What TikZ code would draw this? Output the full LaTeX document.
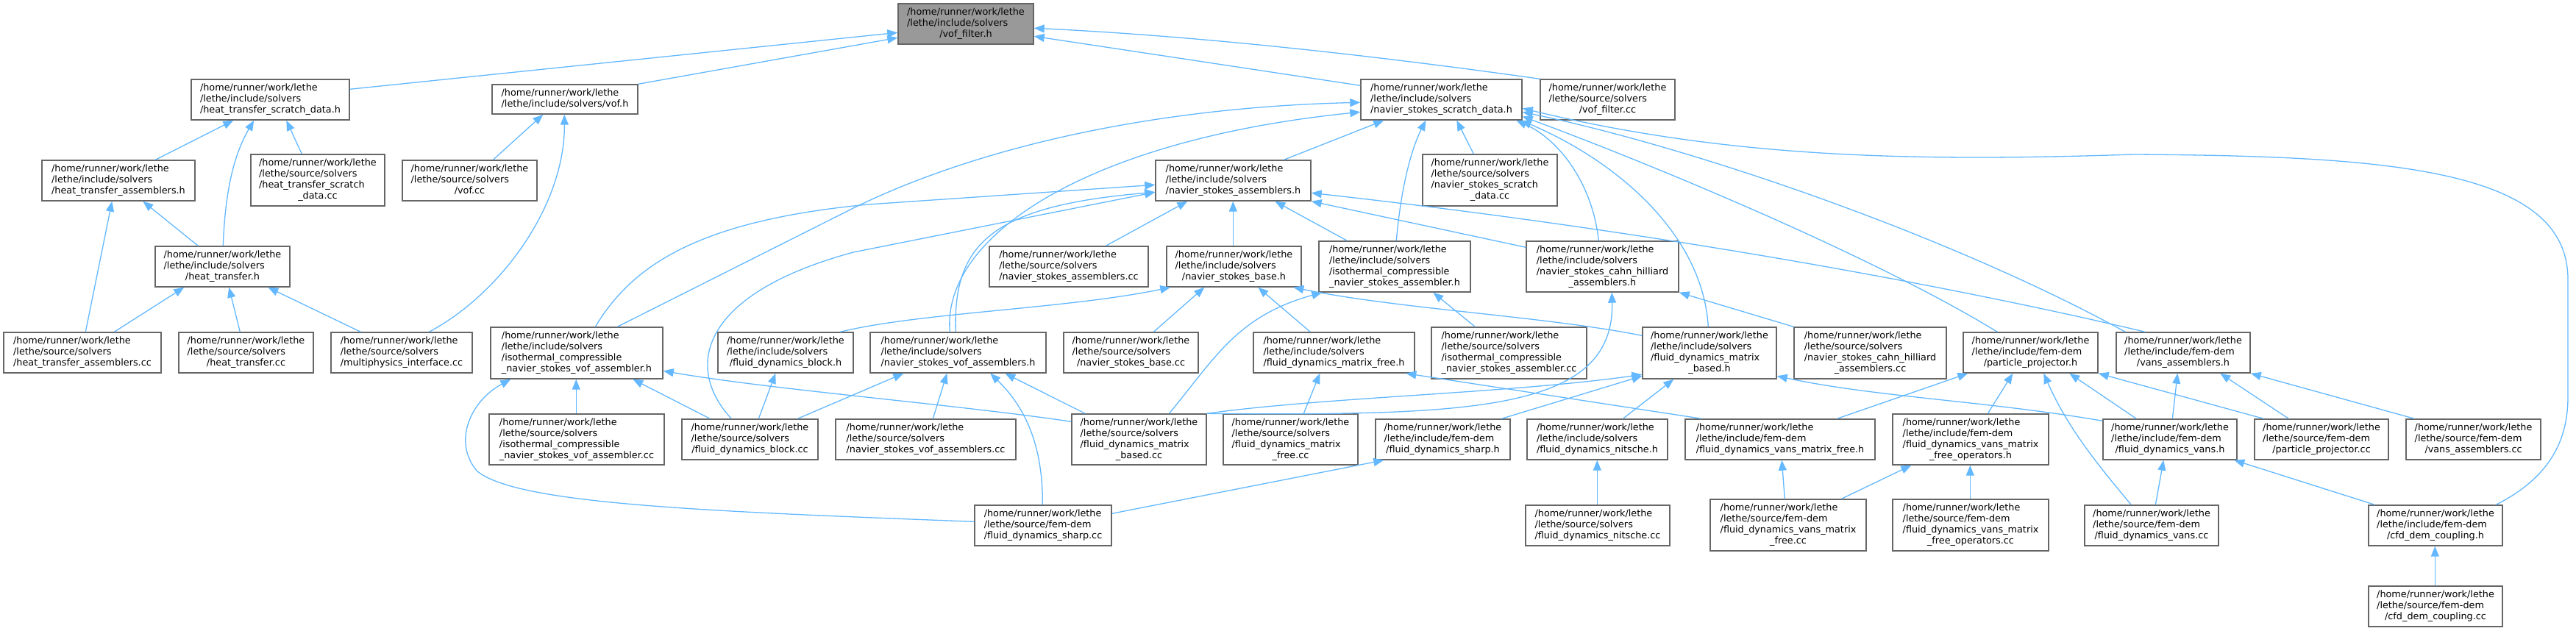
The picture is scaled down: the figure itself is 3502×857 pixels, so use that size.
\documentclass[tikz,border=0pt]{standalone}
\usepackage{fontspec}
\setmainfont{DejaVu Sans}
\usetikzlibrary{calc,arrows.meta}
\definecolor{edgec}{HTML}{63B8FF}
\definecolor{bord}{HTML}{666666}
\definecolor{rootfill}{HTML}{999999}
\newcommand\lastl[1]{\multicolumn{1}{@{}c@{}}{#1}}
\newcommand\pIS{/home/runner/work/lethe\\/lethe/include/solvers}
\newcommand\pSS{/home/runner/work/lethe\\/lethe/source/solvers}
\newcommand\pIF{/home/runner/work/lethe\\/lethe/include/fem-dem}
\newcommand\pSF{/home/runner/work/lethe\\/lethe/source/fem-dem}
\newcommand\nb[7][]{%
  \node[filebox,#1,minimum width={(#5-#3)*0.5pt},minimum height={(#6-#4)*0.5pt}] (#2) at ({(#3+#5)/2},{(#4+#6)/2}) {\begin{tabular}{@{}l@{}}#7\end{tabular}};}
\begin{document}
\begin{tikzpicture}[x=0.5pt,y=-0.5pt,
  filebox/.style={draw=bord,fill=white,line width=0.7pt,inner xsep=3pt,inner ysep=0pt,font=\fontsize{6.4pt}{7.5pt}\selectfont,text=black},
  conn/.style={draw=edgec,line width=0.65pt,-{Triangle[length=7pt,width=5.5pt]}}]
\useasboundingbox (0,0) rectangle (3502,857);
% nodes
\nb[fill=rootfill]{vfh}{1221}{5}{1405}{60}{\pIS\\\lastl{/vof\_filter.h}}
\nb{htsd}{260}{108}{475}{163}{\pIS\\\lastl{/heat\_transfer\_scratch\_data.h}}
\nb{vofh}{669}{115}{867}{155}{/home/runner/work/lethe\\\lastl{/lethe/include/solvers/vof.h}}
\nb{nssd}{1850}{108}{2069}{163}{\pIS\\\lastl{/navier\_stokes\_scratch\_data.h}}
\nb{vfcc}{2094}{108}{2277}{163}{\pSS\\\lastl{/vof\_filter.cc}}
\nb{hta}{57}{218}{265}{273}{\pIS\\\lastl{/heat\_transfer\_assemblers.h}}
\nb{htsdcc}{341}{210}{523}{280}{\pSS\\/heat\_transfer\_scratch\\\lastl{\_data.cc}}
\nb{vofcc}{547}{218}{730}{273}{\pSS\\\lastl{/vof.cc}}
\nb{nsa}{1571}{218}{1782}{273}{\pIS\\\lastl{/navier\_stokes\_assemblers.h}}
\nb{nssdcc}{1934}{210}{2117}{280}{\pSS\\/navier\_stokes\_scratch\\\lastl{\_data.cc}}
\nb{ht}{211}{335}{394}{390}{\pIS\\\lastl{/heat\_transfer.h}}
\nb{nsacc}{1345}{335}{1561}{390}{\pSS\\\lastl{/navier\_stokes\_assemblers.cc}}
\nb{nsb}{1586}{335}{1769}{390}{\pIS\\\lastl{/navier\_stokes\_base.h}}
\nb{icnsa}{1793}{328}{1999}{397}{\pIS\\/isothermal\_compressible\\\lastl{\_navier\_stokes\_assembler.h}}
\nb{nscha}{2075}{328}{2282}{397}{\pIS\\/navier\_stokes\_cahn\_hilliard\\\lastl{\_assemblers.h}}
\nb{htacc}{5}{452}{219}{507}{\pSS\\\lastl{/heat\_transfer\_assemblers.cc}}
\nb{htcc}{243}{452}{426}{507}{\pSS\\\lastl{/heat\_transfer.cc}}
\nb{mpicc}{450}{452}{642}{507}{\pSS\\\lastl{/multiphysics\_interface.cc}}
\nb{icnsva}{667}{445}{901}{515}{\pIS\\/isothermal\_compressible\\\lastl{\_navier\_stokes\_vof\_assembler.h}}
\nb{fdb}{976}{452}{1160}{507}{\pIS\\\lastl{/fluid\_dynamics\_block.h}}
\nb{nsva}{1183}{452}{1422}{507}{\pIS\\\lastl{/navier\_stokes\_vof\_assemblers.h}}
\nb{nsbcc}{1446}{452}{1629}{507}{\pSS\\\lastl{/navier\_stokes\_base.cc}}
\nb{fdmf}{1704}{452}{1923}{507}{\pIS\\\lastl{/fluid\_dynamics\_matrix\_free.h}}
\nb{icnsacc}{1946}{445}{2157}{515}{\pSS\\/isothermal\_compressible\\\lastl{\_navier\_stokes\_assembler.cc}}
\nb{fdmb}{2233}{445}{2415}{515}{\pIS\\/fluid\_dynamics\_matrix\\\lastl{\_based.h}}
\nb{nschacc}{2439}{445}{2646}{515}{\pSS\\/navier\_stokes\_cahn\_hilliard\\\lastl{\_assemblers.cc}}
\nb{pph}{2669}{452}{2852}{507}{\pIF\\\lastl{/particle\_projector.h}}
\nb{vah}{2877}{452}{3059}{507}{\pIF\\\lastl{/vans\_assemblers.h}}
\nb{icnsvacc}{665}{563}{903}{632}{\pSS\\/isothermal\_compressible\\\lastl{\_navier\_stokes\_vof\_assembler.cc}}
\nb{fdbcc}{927}{570}{1112}{625}{\pSS\\\lastl{/fluid\_dynamics\_block.cc}}
\nb{nsvacc}{1136}{570}{1381}{625}{\pSS\\\lastl{/navier\_stokes\_vof\_assemblers.cc}}
\nb{fdmbcc}{1457}{563}{1640}{632}{\pSS\\/fluid\_dynamics\_matrix\\\lastl{\_based.cc}}
\nb{fdmfcc}{1663}{563}{1846}{632}{\pSS\\/fluid\_dynamics\_matrix\\\lastl{\_free.cc}}
\nb{fdsh}{1870}{570}{2053}{625}{\pIF\\\lastl{/fluid\_dynamics\_sharp.h}}
\nb{fdn}{2076}{570}{2267}{625}{\pIS\\\lastl{/fluid\_dynamics\_nitsche.h}}
\nb{fdvmf}{2291}{570}{2549}{625}{\pIF\\\lastl{/fluid\_dynamics\_vans\_matrix\_free.h}}
\nb{fdvmfo}{2573}{563}{2785}{632}{\pIF\\/fluid\_dynamics\_vans\_matrix\\\lastl{\_free\_operators.h}}
\nb{fdv}{2859}{570}{3041}{625}{\pIF\\\lastl{/fluid\_dynamics\_vans.h}}
\nb{ppcc}{3065}{570}{3247}{625}{\pSF\\\lastl{/particle\_projector.cc}}
\nb{vacc}{3271}{570}{3454}{625}{\pSF\\\lastl{/vans\_assemblers.cc}}
\nb{fdshcc}{1325}{687}{1511}{742}{\pSF\\\lastl{/fluid\_dynamics\_sharp.cc}}
\nb{fdncc}{2074}{687}{2270}{742}{\pSS\\\lastl{/fluid\_dynamics\_nitsche.cc}}
\nb{fdvmfcc}{2325}{679}{2537}{749}{\pSF\\/fluid\_dynamics\_vans\_matrix\\\lastl{\_free.cc}}
\nb{fdvmfocc}{2573}{679}{2785}{749}{\pSF\\/fluid\_dynamics\_vans\_matrix\\\lastl{\_free\_operators.cc}}
\nb{fdvcc}{2834}{687}{3016}{742}{\pSF\\\lastl{/fluid\_dynamics\_vans.cc}}
\nb{cfdh}{3220}{687}{3402}{742}{\pIF\\\lastl{/cfd\_dem\_coupling.h}}
\nb{cfdcc}{3220}{797}{3402}{852}{\pSF\\\lastl{/cfd\_dem\_coupling.cc}}
% edges
\draw[conn] ($(htsd.north east)+(0,14)$) -- ($(vfh.north west)+(0,40)$);
\draw[conn] (vofh.north east) -- ($(vfh.north west)+(0,47)$);
\draw[conn] ($(nssd.north west)+(0,9)$) -- ($(vfh.north east)+(0,45)$);
\draw[conn] (vfcc.north west) .. controls (1900,80) and (1650,50) .. ($(vfh.north east)+(0,34)$);
\draw[conn] ($(hta.north west)+(155,0)$) -- ($(htsd.south west)+(58,0)$);
\draw[conn] ($(ht.north west)+(93,0)$) .. controls (306,260) and (318,210) .. ($(htsd.south west)+(86,0)$);
\draw[conn] ($(htsdcc.north west)+(70,0)$) -- ($(htsd.south west)+(130,0)$);
\draw[conn] ($(htacc.north west)+(112,0)$) -- ($(hta.south west)+(96,0)$);
\draw[conn] ($(ht.north west)+(59,0)$) -- ($(hta.south west)+(138,0)$);
\draw[conn] ($(htacc.north west)+(151,0)$) -- ($(ht.south west)+(40,0)$);
\draw[conn] ($(htcc.north west)+(84,0)$) -- ($(ht.south west)+(101,0)$);
\draw[conn] ($(mpicc.north west)+(41,0)$) -- ($(ht.south west)+(154,0)$);
\draw[conn] ($(vofcc.north west)+(124,0)$) -- ($(vofh.south west)+(70,0)$);
\draw[conn] ($(mpicc.north west)+(134,0)$) .. controls (680,400) and (768,280) .. ($(vofh.south west)+(99,0)$);
\draw[conn] ($(nsa.north west)+(175,0)$) -- ($(nssd.south west)+(32,0)$);
\draw[conn] ($(icnsa.north west)+(106,0)$) .. controls (1905,250) and (1920,200) .. ($(nssd.south west)+(89,0)$);
\draw[conn] ($(nssdcc.north west)+(70,0)$) -- ($(nssd.south west)+(131,0)$);
\draw[conn] ($(nscha.north west)+(99,0)$) .. controls (2165,250) and (2120,190) .. ($(nssd.south west)+(212,0)$);
\draw[conn] ($(icnsva.north west)+(173,0)$) -- (1160,283) .. controls (1350,190) and (1600,145) .. ($(nssd.north west)+(0,32)$);
\draw[conn] ($(nsva.north west)+(109,0)$) .. controls (1280,320) and (1480,190) .. ($(nssd.north west)+(0,45)$);
\draw[conn] ($(fdmb.north west)+(90,0)$) .. controls (2315,320) and (2200,220) .. ($(nssd.south east)+(-2,0)$);
\draw[conn] ($(pph.north west)+(47,0)$) .. controls (2550,350) and (2250,225) .. ($(nssd.north east)+(0,51)$);
\draw[conn] ($(vah.north west)+(13,0)$) .. controls (2650,320) and (2300,200) .. ($(nssd.north east)+(0,45)$);
\draw[conn] ($(cfdh.north west)+(174,0)$) .. controls (3465,650) and (3491,600) .. (3491,540) -- (3491,380) .. controls (3491,230) and (3250,212) .. (2900,210) .. controls (2600,220) and (2350,215) .. ($(nssd.north east)+(0,40)$);
\draw[conn] ($(nsacc.north west)+(159,0)$) -- ($(nsa.south west)+(44,0)$);
\draw[conn] ($(nsb.north west)+(91,0)$) -- ($(nsa.south west)+(106,0)$);
\draw[conn] ($(icnsa.north west)+(39,0)$) -- ($(nsa.south west)+(163,0)$);
\draw[conn] ($(nscha.north west)+(0,9)$) -- (nsa.south east);
\draw[conn] ($(vah.north west)+(40,0)$) .. controls (2700,400) and (2300,320) .. ($(nsa.north east)+(0,45)$);
\draw[conn] ($(icnsva.north west)+(143,0)$) .. controls (860,360) and (950,300) .. (1180,278) -- ($(nsa.north west)+(0,34)$);
\draw[conn] ($(fdbcc.north west)+(68,0)$) .. controls (930,500) and (950,400) .. (1160,343) -- ($(nsa.north west)+(0,44)$);
\draw[conn] ($(nsva.north west)+(117,0)$) .. controls (1295,330) and (1350,280) .. ($(nsa.north west)+(0,44)$);
\draw[conn] ($(fdb.north west)+(167,0)$) .. controls (1250,425) and (1450,420) .. ($(nsb.south west)+(6,0)$);
\draw[conn] ($(nsbcc.north west)+(123,0)$) -- ($(nsb.south west)+(52,0)$);
\draw[conn] ($(fdmf.north west)+(78,0)$) -- ($(nsb.south west)+(125,0)$);
\draw[conn] ($(fdmb.north west)+(0,12)$) .. controls (2100,430) and (1900,420) .. ($(nsb.south west)+(173,0)$);
\draw[conn] ($(fdmbcc.north west)+(133,0)$) .. controls (1650,490) and (1680,430) .. ($(icnsa.south west)+(5,0)$);
\draw[conn] (nschacc.north west) -- (nscha.south east);
\draw[conn] (fdmbcc.north east) .. controls (2000,565) and (2195,560) .. ($(nscha.south west)+(117,0)$);
\draw[conn] (fdmbcc.north east) .. controls (1800,540) and (2050,535) .. ($(fdmb.north west)+(0,65)$);
\draw[conn] ($(icnsvacc.north west)+(119,0)$) -- ($(icnsva.south west)+(117,0)$);
\draw[conn] ($(fdbcc.north west)+(39,0)$) -- ($(icnsva.south west)+(194,0)$);
\draw[conn] ($(fdshcc.north west)+(0,23)$) .. controls (950,695) and (700,685) .. (648,640) .. controls (615,600) and (640,545) .. ($(icnsva.south west)+(28,0)$);
\draw[conn] ($(fdmbcc.north west)+(0,11)$) .. controls (1300,550) and (1050,530) .. ($(icnsva.north east)+(0,60)$);
\draw[conn] ($(fdbcc.north west)+(105,0)$) -- ($(fdb.south west)+(79,0)$);
\draw[conn] ($(fdbcc.north west)+(158,0)$) -- ($(nsva.south west)+(46,0)$);
\draw[conn] ($(nsvacc.north west)+(133,0)$) -- ($(nsva.south west)+(105,0)$);
\draw[conn] ($(fdshcc.north west)+(93,0)$) .. controls (1418,600) and (1390,550) .. ($(nsva.south west)+(164,0)$);
\draw[conn] ($(fdmbcc.north west)+(19,0)$) -- ($(nsva.south west)+(184,0)$);
\draw[conn] ($(fdmfcc.north west)+(110,0)$) -- ($(fdmf.south west)+(91,0)$);
\draw[conn] ($(fdvmf.north west)+(23,0)$) -- ($(fdmf.south west)+(208,0)$);
\draw[conn] ($(fdsh.north west)+(172,0)$) -- ($(fdmb.north west)+(0,67)$);
\draw[conn] ($(fdn.north west)+(131,0)$) -- ($(fdmb.south west)+(43,0)$);
\draw[conn] ($(fdshcc.north east)+(0,12)$) -- ($(fdsh.south west)+(12,0)$);
\draw[conn] ($(fdncc.north west)+(98,0)$) -- ($(fdn.south west)+(96,0)$);
\draw[conn] ($(fdv.north west)+(0,3)$) .. controls (2700,545) and (2550,540) .. ($(fdmb.north east)+(0,67)$);
\draw[conn] ($(fdvmf.north west)+(207,0)$) -- ($(pph.south west)+(7,0)$);
\draw[conn] ($(fdvmfo.north west)+(130,0)$) -- ($(pph.south west)+(68,0)$);
\draw[conn] ($(fdvcc.north west)+(64,0)$) .. controls (2850,630) and (2810,580) .. ($(pph.south west)+(110,0)$);
\draw[conn] ($(fdv.north west)+(46,0)$) -- ($(pph.south west)+(145,0)$);
\draw[conn] ($(ppcc.north west)+(13,0)$) -- (pph.south east);
\draw[conn] ($(fdvmfcc.north west)+(102,0)$) -- ($(fdvmf.south west)+(132,0)$);
\draw[conn] ($(fdvmfcc.north west)+(179,0)$) -- ($(fdvmfo.south west)+(26,0)$);
\draw[conn] ($(fdvmfocc.north west)+(106,0)$) -- ($(fdvmfo.south west)+(106,0)$);
\draw[conn] ($(fdv.north west)+(95,0)$) -- ($(vah.south west)+(84,0)$);
\draw[conn] ($(ppcc.north west)+(47,0)$) -- ($(vah.south west)+(142,0)$);
\draw[conn] ($(vacc.north west)+(12,0)$) -- (vah.south east);
\draw[conn] ($(fdvcc.north west)+(97,0)$) -- ($(fdv.south west)+(83,0)$);
\draw[conn] ($(cfdh.north west)+(9,0)$) -- ($(fdv.south west)+(179,0)$);
\draw[conn] ($(cfdcc.north west)+(91,0)$) -- ($(cfdh.south west)+(91,0)$);
\draw[conn] ($(icnsacc.north west)+(60,0)$) -- ($(icnsa.south west)+(156,0)$);
\end{tikzpicture}
\end{document}
